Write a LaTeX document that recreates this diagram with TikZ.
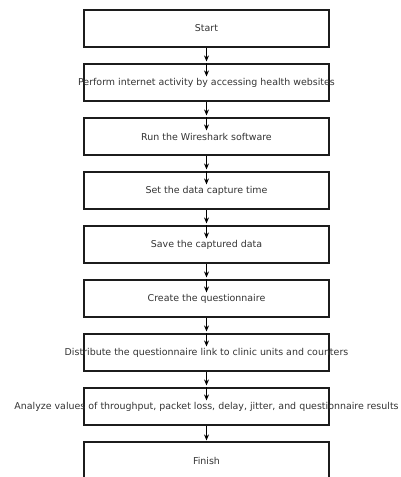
\documentclass[tikz,border=0pt]{standalone}
\usepackage{fontspec}
\setmainfont{DejaVu Sans}
\usetikzlibrary{arrows.meta,positioning}
\definecolor{BoxLine}{HTML}{1C1C1C}
\definecolor{StepText}{HTML}{333333}
\tikzset{
  stepbox/.style={rectangle, draw=BoxLine, line width=1.2pt, fill=white,
             minimum width=245pt, minimum height=37pt, inner sep=0pt,
             text=StepText, font=\fontsize{9.45}{11}\selectfont},
  flowarrow/.style={line width=1.3pt, draw=black, -{Stealth[length=6pt,width=5pt]}},
}
\newcommand{\steptext}[1]{\makebox[0pt][c]{#1}}

\begin{document}
\begin{tikzpicture}[x=1pt, y=1pt]
\useasboundingbox (0,0) rectangle (400,-477);
\node[stepbox] (start) at (206.5,-28.5) {\steptext{Start}};
\node[stepbox] (browse) at (206.5,-82.5) {\steptext{Perform internet activity by accessing health websites}};
\node[stepbox] (wireshark) at (206.5,-136.5) {\steptext{Run the Wireshark software}};
\node[stepbox] (capture) at (206.5,-190.5) {\steptext{Set the data capture time}};
\node[stepbox] (save) at (206.5,-244.5) {\steptext{Save the captured data}};
\node[stepbox] (survey) at (206.5,-298.5) {\steptext{Create the questionnaire}};
\node[stepbox] (distribute) at (206.5,-352.5) {\steptext{Distribute the questionnaire link to clinic units and counters}};
\node[stepbox] (analyze) at (206.5,-406.5) {\steptext{Analyze values of throughput, packet loss, delay, jitter, and questionnaire results}};
\node[stepbox] (finish) at (206.5,-460.5) {\steptext{Finish}};
% arrows between the steps
\draw[flowarrow, shorten >=2pt] (start.south) -- (browse.north);
\draw[flowarrow, shorten >=2pt] (browse.south) -- (wireshark.north);
\draw[flowarrow, shorten >=2pt] (wireshark.south) -- (capture.north);
\draw[flowarrow, shorten >=2pt] (capture.south) -- (save.north);
\draw[flowarrow, shorten >=2pt] (save.south) -- (survey.north);
\draw[flowarrow, shorten >=2pt] (survey.south) -- (distribute.north);
\draw[flowarrow, shorten >=2pt] (distribute.south) -- (analyze.north);
\draw[flowarrow, shorten >=1pt] (analyze.south) -- (finish.north);
% short arrows inside the boxes
\coordinate[below=13pt of browse.north] (browse-in);
\coordinate[below=13pt of wireshark.north] (wireshark-in);
\coordinate[below=13pt of capture.north] (capture-in);
\coordinate[below=13pt of save.north] (save-in);
\coordinate[below=13pt of survey.north] (survey-in);
\coordinate[below=13pt of distribute.north] (distribute-in);
\coordinate[below=13pt of analyze.north] (analyze-in);
\draw[flowarrow] (browse.north) -- (browse-in);
\draw[flowarrow] (wireshark.north) -- (wireshark-in);
\draw[flowarrow] (capture.north) -- (capture-in);
\draw[flowarrow] (save.north) -- (save-in);
\draw[flowarrow] (survey.north) -- (survey-in);
\draw[flowarrow] (distribute.north) -- (distribute-in);
\draw[flowarrow] (analyze.north) -- (analyze-in);
\end{tikzpicture}
\end{document}
